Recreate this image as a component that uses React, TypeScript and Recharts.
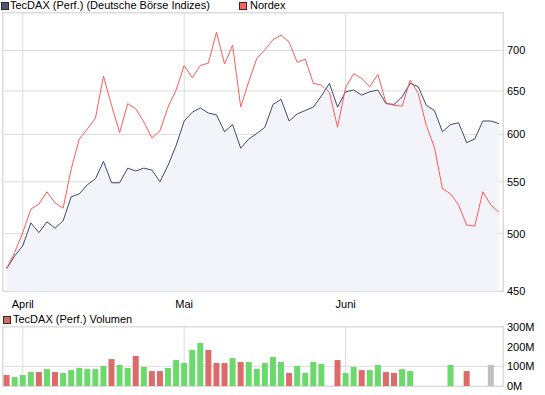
import React from 'react';
import { ComposedChart, Line, Area, Bar, Cell, XAxis, YAxis, CartesianGrid } from 'recharts';

// trading-day index of the first day of each month shown on the x axis
const monthTicks = [2, 22, 42];
const monthLabels = ['April', 'Mai', 'Juni'];
const priceTicks = [450, 500, 550, 600, 650, 700];
const volumeTicks = [0, 100, 200, 300];

const tecdax = [
  469, 480, 489, 510, 501, 511, 505, 512, 535, 538,
  547, 553, 571, 549, 549, 564, 561, 564, 562, 550,
  567, 588, 615, 625, 630, 624, 622, 603, 611, 585,
  595, 601, 608, 634, 640, 615, 623, 627, 631, 644,
  659, 631, 649, 651, 645, 649, 651, 635, 634, 643,
  659, 655, 633, 627, 603, 611, 613, 591, 595, 615,
  615, 612,
];

const nordex = [
  469, 483, 501, 523, 528, 540, 529, 524, 563, 595,
  606, 618, 668, 633, 602, 635, 629, 614, 596, 604,
  631, 651, 681, 666, 681, 684, 724, 683, 707, 631,
  661, 690, 701, 714, 720, 711, 685, 689, 659, 657,
  648, 608, 654, 671, 665, 655, 670, 636, 633, 632,
  663, 647, 610, 586, 543, 538, 527, 508, 507, 540,
  527, 520,
];

// Volumen in Mio.
const volume = [
  56, 46, 56, 71, 71, 86, 71, 66, 81, 92,
  86, 86, 102, 137, 107, 92, 153, 97, 76, 76,
  92, 132, 117, 183, 219, 183, 117, 117, 142, 122,
  122, 86, 117, 147, 122, 66, 102, 66, 122, 112,
  null, 132, 66, 97, 81, 81, 107, 71, 66, 86,
  76, null, null, null, null, 107, null, 76, null, null,
  107, null,
];

// u = up, d = down, n = open day
const trend = [
  'd', 'u', 'u', 'u', 'd', 'u', 'd', 'u', 'u', 'u',
  'u', 'u', 'u', 'd', 'u', 'u', 'd', 'u', 'd', 'd',
  'u', 'u', 'u', 'u', 'u', 'd', 'd', 'd', 'u', 'd',
  'u', 'u', 'u', 'u', 'u', 'd', 'u', 'u', 'u', 'u',
  '', 'd', 'u', 'u', 'd', 'u', 'u', 'd', 'd', 'u',
  'u', '', '', '', '', 'u', '', 'd', '', '',
  'n', '',
];

const barColors: Record<string, string> = { u: '#6cd96c', d: '#dc6b6b', n: '#c0c0c0', '': 'none' };

const rows = tecdax.map((v, i) => ({
  i,
  tecdax: v,
  nordex: nordex[i],
  volume: volume[i],
  trend: trend[i],
}));

const FONT = '"Liberation Sans", Arial, sans-serif';
const GRID = '#dcdcdc';
const xDomain = [-0.45, 61.5];
const tickStyle = { fontSize: 11, fill: '#000', fontFamily: FONT };

const LegendBox = ({ color, left, top }: { color: string; left: number; top: number }) => (
  <div style={{
    position: 'absolute', left, top, width: 8, height: 8, boxSizing: 'border-box',
    border: '1px solid #2a2a2a', background: color,
  }} />
);

const Label = ({ text, left, top }: { text: string; left: number; top: number }) => (
  <div style={{ position: 'absolute', left, top, fontSize: 11, lineHeight: '11px', whiteSpace: 'nowrap', color: '#000' }}>
    {text}
  </div>
);

export default function App() {
  return (
    <div style={{ position: 'absolute', left: 0, top: 0, width: 545, height: 395, background: '#fff', fontFamily: FONT, overflow: 'hidden' }}>
      <LegendBox color="#4b5877" left={1} top={2} />
      <Label text="TecDAX (Perf.) (Deutsche Börse Indizes)" left={10} top={0} />
      <LegendBox color="#ff6262" left={239} top={2} />
      <Label text="Nordex" left={250} top={0} />

      <div style={{ position: 'absolute', left: 0, top: 0 }}>
        <ComposedChart width={545} height={315} data={rows} margin={{ top: 13, right: 0, bottom: 0, left: 3 }}>
          <CartesianGrid stroke={GRID} />
          <XAxis
            dataKey="i" type="number" domain={xDomain} ticks={monthTicks} height={24}
            tickFormatter={(v) => monthLabels[monthTicks.indexOf(v)]}
            axisLine={false} tickLine={false} tickSize={6} tickMargin={3} tick={tickStyle}
          />
          <YAxis
            orientation="right" width={42} scale="log" domain={[450, 750]} allowDataOverflow
            ticks={priceTicks} axisLine={false} tickLine={false} tickSize={3} tickMargin={1} tick={tickStyle}
          />
          <Area dataKey="tecdax" type="linear" baseValue={450} fill="#f3f4f9" fillOpacity={1} stroke="none" isAnimationActive={false} />
          <Line dataKey="tecdax" type="linear" stroke="#3d4a6a" strokeWidth={1} dot={false} isAnimationActive={false} />
          <Line dataKey="nordex" type="linear" stroke="#ff5a5a" strokeWidth={1} dot={false} isAnimationActive={false} />
        </ComposedChart>
      </div>
      <div style={{ position: 'absolute', left: 2, top: 12, width: 502, height: 280, boxSizing: 'border-box', border: `1px solid ${GRID}`, pointerEvents: 'none' }} />

      <LegendBox color="#d96868" left={3} top={316} />
      <Label text="TecDAX (Perf.) Volumen" left={13} top={314} />

      <div style={{ position: 'absolute', left: 0, top: 320 }}>
        <ComposedChart width={545} height={75} data={rows} margin={{ top: 7, right: 0, bottom: 9, left: 3 }}>
          <CartesianGrid stroke={GRID} />
          <XAxis dataKey="i" type="number" domain={xDomain} ticks={monthTicks} hide />
          <YAxis
            orientation="right" width={42} domain={[0, 300]} ticks={volumeTicks}
            tickFormatter={(v) => `${v}M`}
            axisLine={false} tickLine={false} tickSize={3} tickMargin={1} tick={tickStyle}
          />
          <Bar dataKey="volume" barSize={6} isAnimationActive={false}>
            {rows.map((r, idx) => (
              <Cell key={`vol-${idx}`} fill={barColors[r.trend]} />
            ))}
          </Bar>
        </ComposedChart>
      </div>
      <div style={{ position: 'absolute', left: 2, top: 326, width: 502, height: 61, boxSizing: 'border-box', border: `1px solid ${GRID}`, pointerEvents: 'none' }} />
    </div>
  );
}
